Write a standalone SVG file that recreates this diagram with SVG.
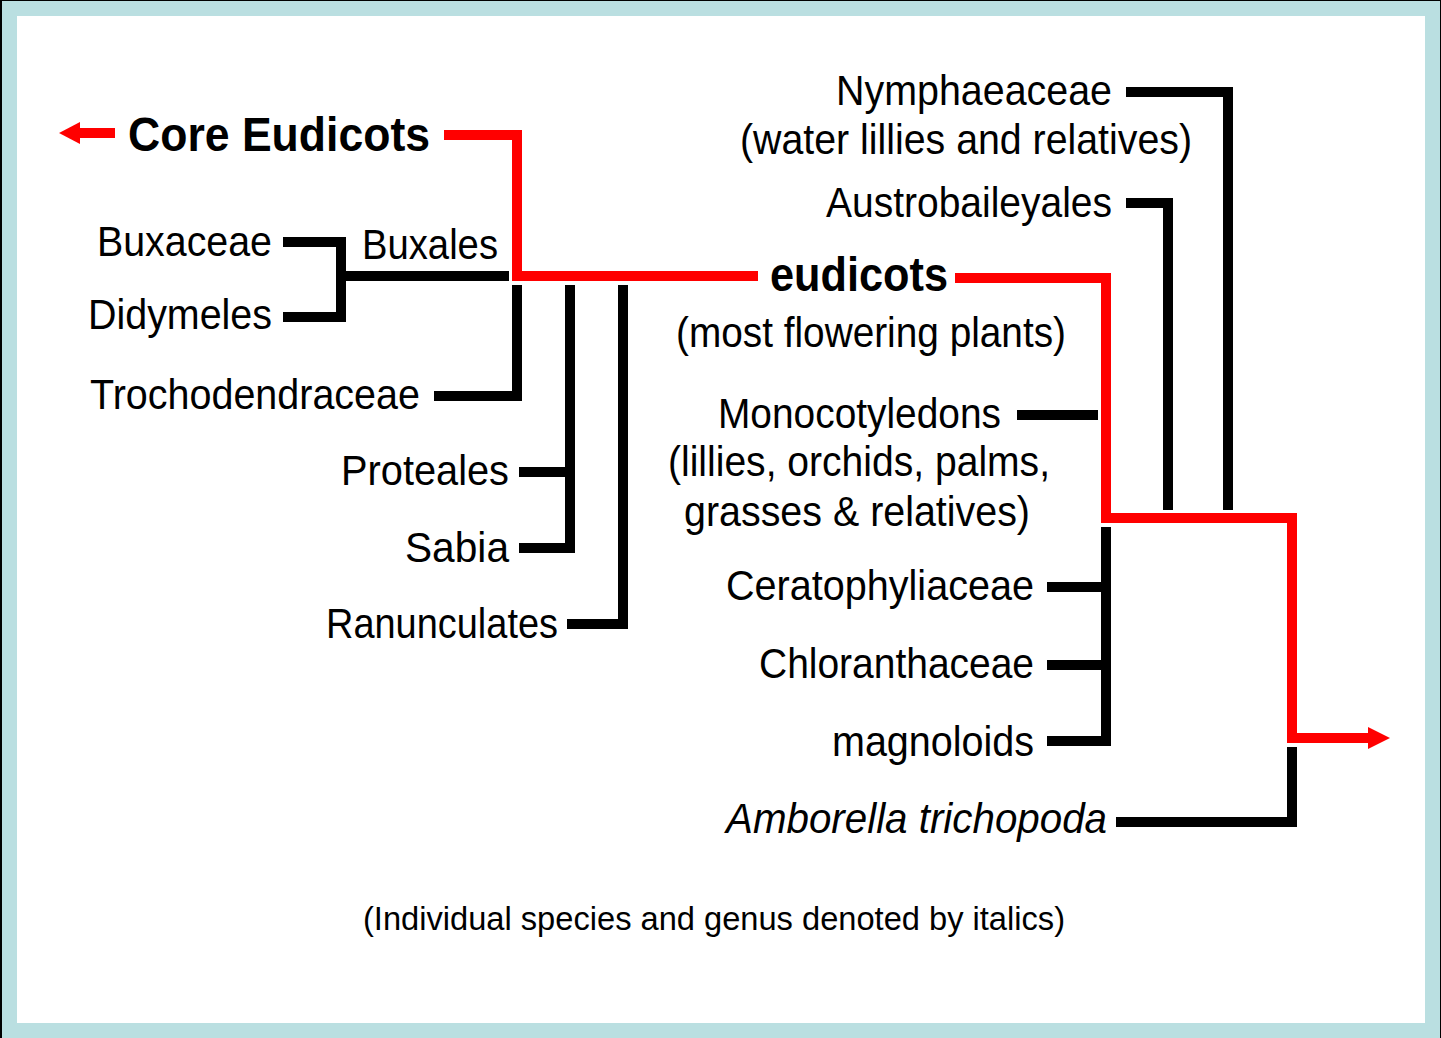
<svg xmlns="http://www.w3.org/2000/svg" width="1441" height="1038" viewBox="0 0 1441 1038">
<style>
text{font-family:"Liberation Sans",Arial,sans-serif;font-size:43px;fill:#000}
.b{font-weight:bold;font-size:48px}
.i{font-style:italic}
.s{font-size:33px}
.k{fill:none;stroke:#000;stroke-width:10;stroke-linejoin:miter;stroke-linecap:butt}
.r{fill:none;stroke:#f00;stroke-width:10;stroke-linejoin:miter;stroke-linecap:butt}
</style>
<rect x="0" y="0" width="1441" height="1038" fill="#000"/>
<rect x="2" y="1" width="1438" height="1037" fill="#badfe1"/>
<rect x="17" y="16" width="1408" height="1007" fill="#fff"/>
<g id="connectors">
<path class="r" d="M444,135 H517 V276 H758"/>
<path class="r" d="M115,133 H78"/>
<polygon points="59,133 80,122 80,144" fill="#f00"/>
<path class="r" d="M955,278 H1106 V518 H1292 V738 H1370"/>
<polygon points="1390,738 1368,727 1368,749" fill="#f00"/>
<path class="k" d="M283,242 H341 V317 H283"/>
<path class="k" d="M346,276 H509"/>
<path class="k" d="M517,285 V396 H434"/>
<path class="k" d="M570,285 V548 H519"/>
<path class="k" d="M575,472 H519"/>
<path class="k" d="M623,285 V624 H567"/>
<path class="k" d="M1126,92 H1228 V510"/>
<path class="k" d="M1126,203 H1168 V510"/>
<path class="k" d="M1017,415 H1098"/>
<path class="k" d="M1106,527 V741 H1047"/>
<path class="k" d="M1111,587 H1047"/>
<path class="k" d="M1111,665 H1047"/>
<path class="k" d="M1292,747 V822 H1116"/>
</g>
<g id="core-eudicots"><text class="b" x="128" y="151" textLength="302" lengthAdjust="spacingAndGlyphs">Core Eudicots</text></g>
<g id="buxaceae"><text x="97" y="256" textLength="175" lengthAdjust="spacingAndGlyphs">Buxaceae</text></g>
<g id="didymeles"><text x="88" y="329" textLength="184" lengthAdjust="spacingAndGlyphs">Didymeles</text></g>
<g id="buxales"><text x="362" y="259" textLength="136" lengthAdjust="spacingAndGlyphs">Buxales</text></g>
<g id="trochodendraceae"><text x="90" y="409" textLength="330" lengthAdjust="spacingAndGlyphs">Trochodendraceae</text></g>
<g id="proteales"><text x="341" y="485" textLength="168" lengthAdjust="spacingAndGlyphs">Proteales</text></g>
<g id="sabia"><text x="405" y="562" textLength="104" lengthAdjust="spacingAndGlyphs">Sabia</text></g>
<g id="ranunculates"><text x="326" y="638" textLength="232" lengthAdjust="spacingAndGlyphs">Ranunculates</text></g>
<g id="nymphaeaceae"><text x="836" y="105" textLength="276" lengthAdjust="spacingAndGlyphs">Nymphaeaceae</text><text x="740" y="154" textLength="452" lengthAdjust="spacingAndGlyphs">(water lillies and relatives)</text></g>
<g id="austrobaileyales"><text x="826" y="217" textLength="286" lengthAdjust="spacingAndGlyphs">Austrobaileyales</text></g>
<g id="eudicots"><text class="b" x="770" y="291" textLength="178" lengthAdjust="spacingAndGlyphs">eudicots</text><text x="676" y="347" textLength="390" lengthAdjust="spacingAndGlyphs">(most flowering plants)</text></g>
<g id="monocotyledons"><text x="718" y="428" textLength="283" lengthAdjust="spacingAndGlyphs">Monocotyledons</text><text x="668" y="476" textLength="382" lengthAdjust="spacingAndGlyphs">(lillies, orchids, palms,</text><text x="684" y="526" textLength="346" lengthAdjust="spacingAndGlyphs">grasses &amp; relatives)</text></g>
<g id="ceratophyliaceae"><text x="726" y="600" textLength="308" lengthAdjust="spacingAndGlyphs">Ceratophyliaceae</text></g>
<g id="chloranthaceae"><text x="759" y="678" textLength="275" lengthAdjust="spacingAndGlyphs">Chloranthaceae</text></g>
<g id="magnoloids"><text x="832" y="756" textLength="202" lengthAdjust="spacingAndGlyphs">magnoloids</text></g>
<g id="amborella"><text class="i" x="726" y="833" textLength="381" lengthAdjust="spacingAndGlyphs">Amborella trichopoda</text></g>
<g id="note"><text class="s" x="363" y="930" textLength="702" lengthAdjust="spacingAndGlyphs">(Individual species and genus denoted by italics)</text></g>
</svg>
